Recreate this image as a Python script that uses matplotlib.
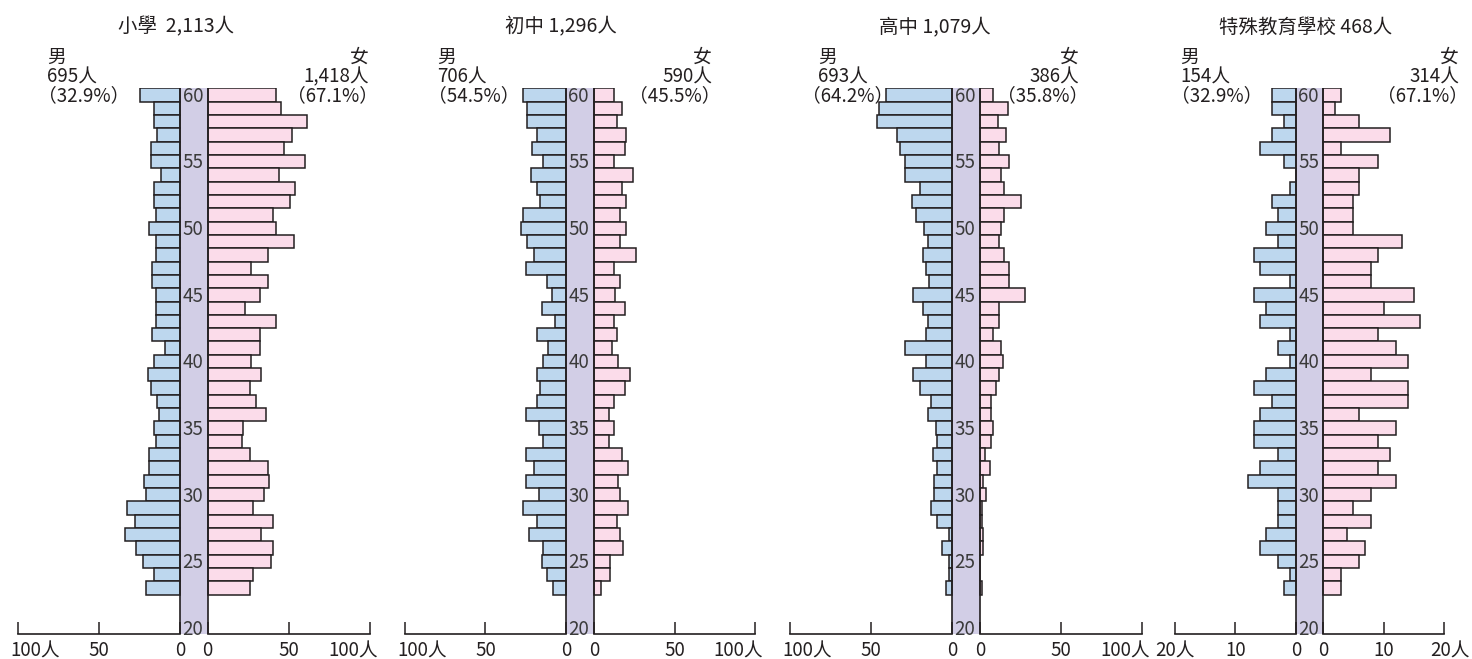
import numpy as np
import matplotlib
matplotlib.use("Agg")
import matplotlib.pyplot as plt

plt.rcParams['font.family'] = ['Noto Sans CJK TC', 'DejaVu Sans']

# 年齡（由上到下）
ages = list(range(60, 22, -1))

schools = ['小學', '初中', '高中', '特殊教育學校']
titles = ['小學  2,113人', '初中 1,296人', '高中 1,079人', '特殊教育學校 468人']
male_totals = ['695人', '706人', '693人', '154人']
female_totals = ['1,418人', '590人', '386人', '314人']
male_pct = ['（32.9%）', '（54.5%）', '（64.2%）', '（32.9%）']
female_pct = ['（67.1%）', '（45.5%）', '（35.8%）', '（67.1%）']

male_primary = [25, 16, 16, 14, 18, 18, 12, 16, 16, 15,
                19, 15, 15, 17, 17, 15, 15, 15, 17, 9,
                16, 20, 18, 14, 13, 16, 15, 19, 19, 22,
                21, 33, 28, 34, 27, 23, 16, 21]
female_primary = [42, 45, 61, 52, 47, 60, 44, 54, 51, 40,
                  42, 53, 37, 27, 37, 32, 23, 42, 32, 32,
                  27, 33, 26, 30, 36, 22, 21, 26, 37, 38,
                  35, 28, 40, 33, 40, 39, 28, 26]

male_junior = [27, 24, 24, 18, 21, 14, 22, 18, 16, 27,
               28, 24, 20, 25, 12, 9, 15, 7, 18, 11,
               14, 18, 16, 18, 25, 17, 14, 25, 20, 25,
               17, 27, 18, 23, 14, 15, 12, 8]
female_junior = [12, 17, 14, 20, 19, 12, 24, 17, 20, 16,
                 20, 16, 26, 12, 16, 13, 19, 12, 14, 11,
                 15, 22, 19, 12, 9, 12, 9, 17, 21, 15,
                 16, 21, 14, 16, 18, 10, 10, 4]

male_senior = [41, 45, 46, 34, 32, 29, 29, 20, 25, 22,
               17, 15, 18, 16, 14, 24, 18, 15, 16, 29,
               16, 24, 20, 13, 15, 10, 9, 12, 9, 11,
               11, 13, 9, 2, 6, 2, 2, 4]
female_senior = [8, 17, 11, 16, 12, 18, 13, 15, 25, 15,
                 13, 12, 15, 18, 18, 28, 12, 12, 8, 13,
                 14, 12, 10, 7, 7, 8, 7, 3, 6, 2,
                 4, 1, 1, 2, 2, 0, 0, 1]

male_special = [4, 4, 2, 4, 6, 2, 0, 1, 4, 3,
                5, 3, 7, 6, 1, 7, 5, 6, 1, 3,
                1, 5, 7, 4, 6, 7, 7, 3, 6, 8,
                3, 3, 3, 5, 6, 3, 1, 2]
female_special = [3, 2, 6, 11, 3, 9, 6, 6, 5, 5,
                  5, 13, 9, 8, 8, 15, 10, 16, 9, 12,
                  14, 8, 14, 14, 6, 12, 9, 11, 9, 12,
                  8, 5, 8, 4, 7, 6, 3, 3]

males = [male_primary, male_junior, male_senior, male_special]
females = [female_primary, female_junior, female_senior, female_special]
scale_max = [100, 100, 100, 20]
scale_mid = [50, 50, 50, 10]

W, H = 1472, 659
MALE = '#bdd7ee'
FEMALE = '#fbdcea'
BAND = '#d2cee6'
INK = '#231f20'
FS = 13.5

# 各圖左右刻度在畫面上的位置（像素）
px_left = [18, 405, 790, 1175]
px_l0 = [180, 566, 952, 1296]
px_r0 = [207.7, 594.3, 980, 1323.3]
px_right = [369.7, 755.3, 1142, 1444]
title_x = [176, 561, 935, 1306]
male_x = [47, 437, 818, 1180]
pct_x = [38, 428, 802, 1171]
female_x = [369, 712, 1079, 1459]

y_top, y_base = 88.3, 634
ylo, yhi = 19.55, 60.5

fig = plt.figure(figsize=(W / 100, H / 100), dpi=100)

for i in range(4):
    m = scale_max[i]
    ppu = (px_l0[i] - px_left[i]) / m
    half = (px_r0[i] - px_l0[i]) / ppu / 2
    ax = fig.add_axes([px_left[i] / W, 1 - y_base / H,
                       (px_right[i] - px_left[i]) / W, (y_base - y_top) / H])
    xmin, xmax = -half - m, half + m
    ax.set_xlim(xmin, xmax)
    ax.set_ylim(ylo, yhi)
    for s in ax.spines.values():
        s.set_visible(False)
    ax.set_yticks([])

    # 中間年齡帶
    ax.fill_between([-half, half], ylo, yhi, color=BAND, zorder=1, lw=0)
    ax.vlines([-half, half], ylo, yhi, color=INK, lw=1.2, zorder=4)

    mv = np.array(males[i])
    fv = np.array(females[i])
    ax.barh(ages, mv, left=-half - mv, height=1.0, color=MALE,
            edgecolor=INK, linewidth=1.1, zorder=2)
    ax.barh(ages, fv, left=half, height=1.0, color=FEMALE,
            edgecolor=INK, linewidth=1.1, zorder=2)

    for a in [60, 55, 50, 45, 40, 35, 30, 25, 20]:
        ax.text(-half + 2.5 / ppu, a - 0.1, str(a), ha='left', va='center',
                fontsize=13.5, color='#3a3a3a', zorder=5)

    # 底線與刻度
    ax.plot([xmin, -half], [ylo, ylo], color=INK, lw=1.2, clip_on=False, zorder=3)
    ax.plot([half, xmax], [ylo, ylo], color=INK, lw=1.2, clip_on=False, zorder=3)
    ticks = [xmin, -half - scale_mid[i], -half, half, half + scale_mid[i], xmax]
    ax.set_xticks(ticks)
    ax.set_xticklabels([])
    ax.tick_params(axis='x', direction='in', length=8.6, width=1.1, color=INK)

    tr = ax.get_xaxis_transform()
    ty = -(651 - y_base) / (y_base - y_top)
    end = f'{m}人'
    if i < 3:
        ax.text(xmin - 8 / ppu, ty, end, transform=tr, ha='left', va='center',
                fontsize=FS, color=INK)
        ax.text(xmax + 8 / ppu, ty, end, transform=tr, ha='right', va='center',
                fontsize=FS, color=INK)
    else:
        ax.text(xmin, ty, end, transform=tr, ha='center', va='center',
                fontsize=FS, color=INK)
        ax.text(xmax + 26 / ppu, ty, end, transform=tr, ha='right', va='center',
                fontsize=FS, color=INK)
    for x, lab in [(-half - scale_mid[i], str(scale_mid[i])), (-half, '0'),
                   (half, '0'), (half + scale_mid[i], str(scale_mid[i]))]:
        ax.text(x, ty, lab, transform=tr, ha='center', va='center',
                fontsize=FS, color=INK)

    # 標題與男女人數
    fig.text(title_x[i] / W, 1 - 27 / H, titles[i], ha='center', va='center',
             fontsize=14, color=INK)
    fig.text(male_x[i] / W, 1 - 57 / H, '男', ha='left', va='center', fontsize=FS, color=INK)
    fig.text(male_x[i] / W, 1 - 77 / H, male_totals[i], ha='left', va='center', fontsize=FS, color=INK)
    fig.text(pct_x[i] / W, 1 - 96 / H, male_pct[i], ha='left', va='center', fontsize=FS, color=INK)
    fig.text(female_x[i] / W, 1 - 57 / H, '女', ha='right', va='center', fontsize=FS, color=INK)
    fig.text(female_x[i] / W, 1 - 77 / H, female_totals[i], ha='right', va='center', fontsize=FS, color=INK)
    fig.text((female_x[i] + 9) / W, 1 - 96 / H, female_pct[i], ha='right', va='center', fontsize=FS, color=INK)

fig.savefig('out.png', dpi=100)
